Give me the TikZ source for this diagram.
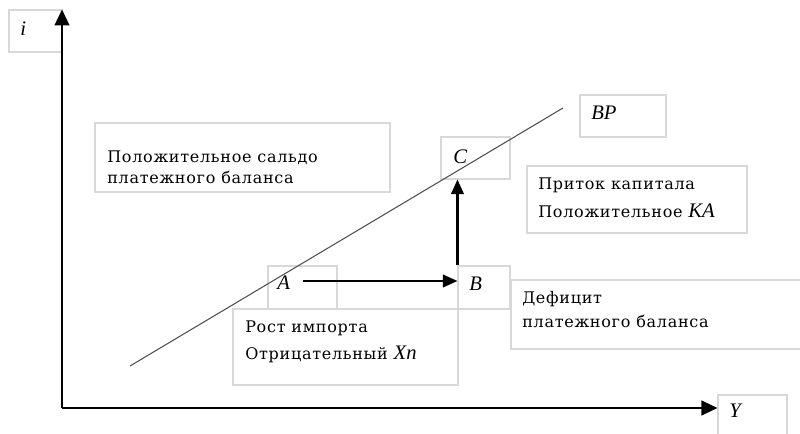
\documentclass[tikz,border=0pt]{standalone}
\usepackage{fontspec}
\setmainfont{DejaVu Serif}[LetterSpace=4.5]
\newfontfamily\labfont{Liberation Serif}
\usetikzlibrary{arrows.meta,fit}
\definecolor{boxgray}{HTML}{D8D8D8}
\definecolor{linegray}{HTML}{505050}
\begin{document}
\begin{tikzpicture}[x=0.75pt,y=-0.75pt,
  box/.style={draw=boxgray,line width=0.8pt,inner sep=0pt},
  txt/.style={anchor=west,inner sep=0pt,align=left},
  lab/.style={anchor=west,inner sep=0pt,font=\labfont\itshape\fontsize{15.5}{17}\selectfont},
  axis/.style={line width=1.7pt,-{Triangle[length=12pt,width=11pt]}},
  mv/.style={line width=1.6pt,-{Triangle[length=11pt,width=9.5pt]}}]
\useasboundingbox (0,0) rectangle (800,434);
% boxes
\node[box,fit={(9,10) (62,52)}] (ibox) {};
\node[box,fit={(95,123) (390,192)}] (pbox) {};
\node[box,fit={(580,95) (666,137)}] (bpbox) {};
\node[box,fit={(441,137) (510,179)}] (cbox) {};
\node[box,fit={(527,166) (747,233)}] (kbox) {};
\node[box,fit={(268,266) (337,309)}] (abox) {};
\node[box,fit={(458,266) (510,309)}] (bbox) {};
\node[box,fit={(233,309) (458,385)}] (rbox) {};
\node[box,fit={(511,280) (806,349)}] (dbox) {};
\node[box,fit={(718,395) (787,440)}] (ybox) {};
% texts
\node[lab] (ilab) at (20,29) {i};
\node[txt,font=\fontsize{12}{15.5}\selectfont] (ptxt) at (107,167) {Положительное сальдо\\платежного баланса};
\node[lab] (bplab) at (591,113) {BP};
\node[lab] (clab) at (453,157) {C};
\node[txt,font=\fontsize{12}{21}\selectfont] (ktxt) at (538,198) {Приток капитала\\Положительное {\labfont\itshape\fontsize{15.5}{17}\selectfont KA}};
\node[lab] (alab) at (277,283) {A};
\node[lab] (blab) at (469,284) {B};
\node[txt,font=\fontsize{12}{20}\selectfont] (rtxt) at (245,342) {Рост импорта\\Отрицательный {\labfont\itshape\fontsize{15.5}{17}\selectfont Xn}};
\node[txt,font=\fontsize{12}{18}\selectfont] (dtxt) at (522,310) {Дефицит\\платежного баланса};
\node[lab] (ylab) at (729,411) {Y};
% BP line
\coordinate (bp1) at (130,366);
\coordinate (bp2) at (563,108);
\draw[linegray,line width=0.8pt] (bp1) -- (bp2);
% axes
\coordinate (O) at (62,408);
\draw[axis] (O) -- (O |- ibox.north);
\draw[axis] (O) -- (O -| ybox.west);
% moves
\coordinate (astart) at (303,281);
\draw[mv] (astart) -- (astart -| bbox.west);
\draw[mv] (bbox.north west) -- (bbox.north west |- cbox.south);
\end{tikzpicture}
\end{document}
